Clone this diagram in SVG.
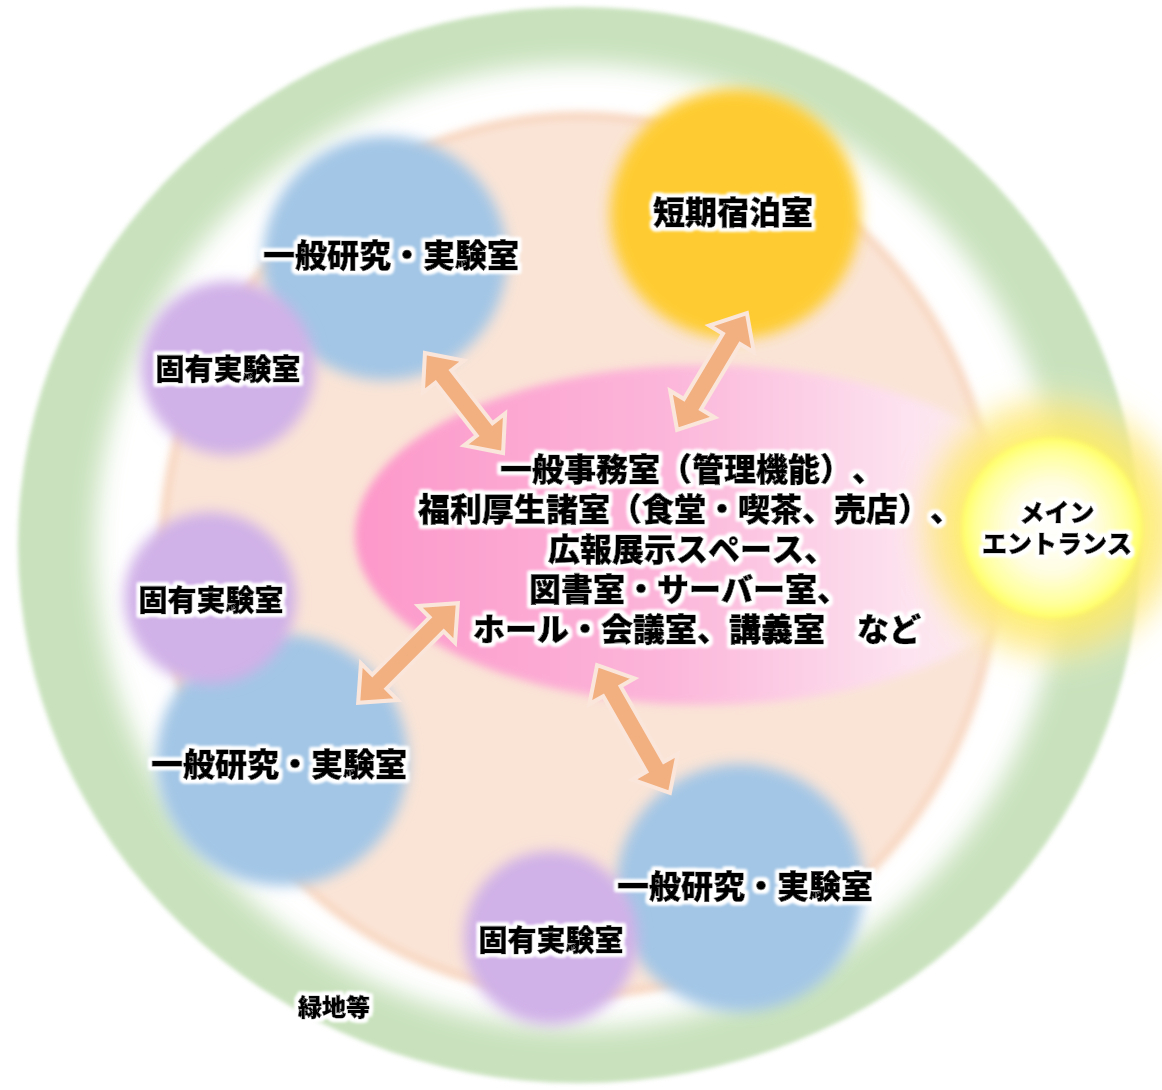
<svg xmlns="http://www.w3.org/2000/svg" width="1162" height="1090" viewBox="0 0 1162 1090">
<defs>
<style>
.t{font-family:"Noto Sans CJK JP","Noto Sans CJK SC",sans-serif;font-weight:900;fill:#000;stroke:#000;stroke-width:0.7;text-anchor:middle;filter:url(#halo);text-spacing-trim:space-all;font-feature-settings:"chws" 0,"halt" 0,"palt" 0;font-kerning:none}
.arrow{fill:#f2b080;stroke:#fbe6dc;stroke-width:4;stroke-linejoin:miter}
.blue{fill:#a3c6e6;filter:url(#soft)}
.purple{fill:#d0b1e8;filter:url(#soft)}
</style>
<filter id="halo" x="-10%" y="-40%" width="120%" height="180%">
<feMorphology in="SourceAlpha" operator="dilate" radius="3" result="d"/>
<feGaussianBlur in="d" stdDeviation="1.5" result="b"/>
<feFlood flood-color="#ffffff"/>
<feComposite in2="b" operator="in" result="w"/>
<feMerge><feMergeNode in="w"/><feMergeNode in="w"/><feMergeNode in="SourceGraphic"/></feMerge>
</filter>
<filter id="soft" x="-20%" y="-20%" width="140%" height="140%"><feGaussianBlur stdDeviation="7"/></filter>
<filter id="soft2" x="-10%" y="-10%" width="120%" height="120%"><feGaussianBlur stdDeviation="2"/></filter>
<filter id="soft12" x="-10%" y="-10%" width="120%" height="120%"><feGaussianBlur stdDeviation="12"/></filter>
<filter id="soft4" x="-10%" y="-10%" width="120%" height="120%"><feGaussianBlur stdDeviation="4"/></filter>
<filter id="soft10" x="-30%" y="-30%" width="160%" height="160%"><feGaussianBlur stdDeviation="10"/></filter>
<linearGradient id="pinkg" x1="0" y1="0" x2="1" y2="0">
<stop offset="0" stop-color="#fd98ca"/>
<stop offset="0.45" stop-color="#fcb6da"/>
<stop offset="0.8" stop-color="#fde4f0"/>
<stop offset="1" stop-color="#fff6fa" stop-opacity="0.3"/>
</linearGradient>
<radialGradient id="glow" cx="0.5" cy="0.5" r="0.5">
<stop offset="0.5" stop-color="#fff25a" stop-opacity="1"/>
<stop offset="0.78" stop-color="#fde67a" stop-opacity="0.7"/>
<stop offset="1" stop-color="#fff8c0" stop-opacity="0"/>
</radialGradient>
<radialGradient id="ent" cx="0.5" cy="0.5" r="0.5">
<stop offset="0" stop-color="#ffffff"/>
<stop offset="0.5" stop-color="#fffde0"/>
<stop offset="0.85" stop-color="#ffff9a"/>
<stop offset="1" stop-color="#ffff66"/>
</radialGradient>
</defs>

<g id="background">
<ellipse cx="579" cy="545" rx="561" ry="538" fill="#c9e2bd" filter="url(#soft2)"/>
<ellipse cx="579" cy="546" rx="484" ry="482" fill="#ffffff" filter="url(#soft12)"/>
<ellipse cx="580" cy="555" rx="418" ry="440" fill="#fae4d6" stroke="#f5c6a6" stroke-width="5" filter="url(#soft4)"/>
</g>

<g id="hub">
<ellipse cx="705" cy="535" rx="350" ry="170" fill="url(#pinkg)" filter="url(#soft4)"/>
</g>

<g id="node-lab1"><circle class="blue" cx="385" cy="258" r="122"/></g>
<g id="node-lab2"><circle class="blue" cx="282" cy="760" r="126"/></g>
<g id="node-lab3"><circle class="blue" cx="740" cy="888" r="124"/></g>
<g id="node-own1"><circle class="purple" cx="228" cy="368" r="87"/></g>
<g id="node-own2"><circle class="purple" cx="210" cy="598" r="86"/></g>
<g id="node-own3"><circle class="purple" cx="551" cy="938" r="87"/></g>
<g id="node-stay"><circle cx="735" cy="214" r="125" fill="#fecc33" filter="url(#soft)"/></g>
<g id="node-entrance">
<circle cx="1052" cy="528" r="150" fill="url(#glow)" filter="url(#soft10)"/>
<circle cx="1052" cy="528" r="90" fill="url(#ent)" filter="url(#soft2)"/>
</g>

<g id="connectors">
<path class="arrow" transform="translate(464,403) rotate(52.05)" d="M-63.5,0 L-33.5,-26 L-33.5,-10 L33.5,-10 L33.5,-26 L63.5,0 L33.5,26 L33.5,10 L-33.5,10 L-33.5,26Z"/>
<path class="arrow" transform="translate(712,371.5) rotate(120.9)" d="M-68,0 L-38,-26 L-38,-10 L38,-10 L38,-26 L68,0 L38,26 L38,10 L-38,10 L-38,26Z"/>
<path class="arrow" transform="translate(408,653) rotate(135)" d="M-70.5,0 L-40.5,-26 L-40.5,-10 L40.5,-10 L40.5,-26 L70.5,0 L40.5,26 L40.5,10 L-40.5,10 L-40.5,26Z"/>
<path class="arrow" transform="translate(633.5,729) rotate(60.3)" d="M-73.5,0 L-43.5,-26 L-43.5,-10 L43.5,-10 L43.5,-26 L73.5,0 L43.5,26 L43.5,10 L-43.5,10 L-43.5,26Z"/>
</g>

<g id="labels">
<text class="t" x="391" y="267" font-size="32">一般研究・実験室</text>
<text class="t" x="279" y="776" font-size="32">一般研究・実験室</text>
<text class="t" x="745" y="898" font-size="32">一般研究・実験室</text>
<text class="t" x="228" y="380" font-size="29">固有実験室</text>
<text class="t" x="211" y="611" font-size="29">固有実験室</text>
<text class="t" x="551" y="951" font-size="29">固有実験室</text>
<text class="t" x="733" y="224" font-size="32">短期宿泊室</text>
<text class="t" x="1057" y="522" font-size="25">メイン</text>
<text class="t" x="1057" y="553" font-size="25">エントランス</text>
<text class="t" x="334" y="1016" font-size="24">緑地等</text>
<text class="t" x="692" y="481" font-size="32">一般事務室（管理機能）、</text>
<text class="t" x="690" y="521" font-size="32">福利厚生諸室（食堂・喫茶、売店）、</text>
<text class="t" x="692" y="561" font-size="32">広報展示スペース、</text>
<text class="t" x="689" y="601" font-size="32">図書室・サーバー室、</text>
<text class="t" x="697" y="641" font-size="32">ホール・会議室、講義室　など</text>
</g>
</svg>
